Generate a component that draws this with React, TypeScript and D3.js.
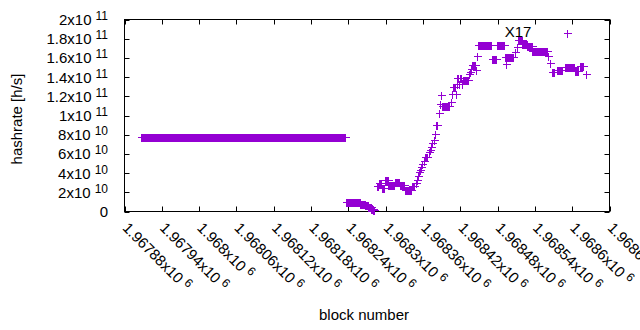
import * as d3 from "d3";

// runs of consecutive blocks sharing one hashrate value (GH/s)
const runStart = [
  1967907,
  1968236, 1968251, 1968259, 1968267, 1968272, 1968277, 1968280,
  1968286, 1968289, 1968294, 1968296, 1968299, 1968304, 1968315, 1968323, 1968331, 1968342,
  1968348, 1968350, 1968352, 1968353, 1968355, 1968357, 1968358, 1968361, 1968363, 1968369,
  1968371, 1968373, 1968374, 1968378, 1968379, 1968381, 1968386, 1968387, 1968389, 1968390,
  1968405, 1968406, 1968408, 1968413, 1968414, 1968415, 1968418, 1968419, 1968422, 1968425,
  1968434, 1968435, 1968437, 1968439, 1968445, 1968447, 1968449, 1968471, 1968479, 1968492,
  1968493, 1968494, 1968508, 1968512, 1968513, 1968520, 1968528, 1968536, 1968561, 1968564,
  1968567, 1968575, 1968588, 1968591, 1968592, 1968605, 1968612, 1968623,
];
const runCount = [
  328,
  15, 8, 8, 5, 5, 3, 3,
  3, 5, 2, 3, 5, 11, 8, 8, 11, 5,
  1, 1, 1, 1, 1, 1, 1, 1, 5, 1,
  1, 1, 1, 1, 1, 3, 1, 1, 1, 13,
  1, 1, 5, 1, 1, 3, 1, 3, 1, 8,
  1, 2, 1, 6, 1, 1, 22, 8, 13, 1,
  1, 12, 1, 1, 7, 8, 8, 24, 1, 1,
  4, 10, 3, 1, 12, 6, 7, 1,
];
const runRate = [
  78,
  10.4, 9.5, 8.2, 6.5, 4.5, 2.8, 1.2,
  27, 29.5, 25, 24, 33, 28, 30.5, 28, 22.6, 27,
  30, 33, 37.5, 41, 43, 46, 50, 53, 56.6, 62,
  64, 67, 71, 75, 81, 90, 103, 112, 121.5, 109.5,
  114, 122.6, 129.5, 122.6, 133, 139, 133, 139, 133, 137.5,
  143.4, 145, 148, 153, 147, 162.5, 173, 159, 173, 161,
  154, 161, 166, 171, 179, 174.5, 172, 167, 161.5, 154.5,
  145, 147.6, 150.3, 186, 150.3, 146, 151.5, 143,
];

const xTickValues = [
  1967880, 1967940, 1968000, 1968060, 1968120, 1968180, 1968240,
  1968300, 1968360, 1968420, 1968480, 1968540, 1968600, 1968660,
];
const xTickMantissa = [
  "1.96788", "1.96794", "1.968", "1.96806", "1.96812", "1.96818", "1.96824",
  "1.9683", "1.96836", "1.96842", "1.96848", "1.96854", "1.9686", "1.96866",
];
const xTickExponent = "6";

const yTickValues = [0, 2e10, 4e10, 6e10, 8e10, 1e11, 1.2e11, 1.4e11, 1.6e11, 1.8e11, 2e11];
const yTickMantissa = ["0", "2", "4", "6", "8", "1", "1.2", "1.4", "1.6", "1.8", "2"];
const yTickExponent = ["", "10", "10", "10", "10", "11", "11", "11", "11", "11", "11"];

const font = "'Liberation Sans', Arial, sans-serif";
const color = "#9400d3";

export default function App() {
  const left = 124.5, right = 609.5, top = 19.5, bottom = 211.5;
  const x = d3.scaleLinear().domain([1967880, 1968660]).range([left, right]);
  const y = d3.scaleLinear().domain([0, 2e11]).range([bottom, top]);

  const points: { b: number; v: number }[] = [];
  runStart.forEach((s, i) => {
    for (let k = 0; k < runCount[i]; k++) points.push({ b: s + k, v: runRate[i] * 1e9 });
  });

  // gnuplot "+" marker, drawn pixel-snapped
  const m = 3.5;
  let d = "";
  points.forEach((p) => {
    const px = Math.round(x(p.b)) + 0.5, py = Math.round(y(p.v)) + 0.5;
    d += `M${px - m},${py}H${px + m + 1}M${px},${py - m}V${py + m + 1}`;
  });

  const tick = 5;

  return (
    <div style={{ position: "absolute", left: 0, top: 0 }}>
      <svg width={640} height={330} style={{ display: "block", background: "#fff" }}>
        <g stroke="#000" strokeWidth={1}>
          {yTickValues.map((t, i) => (
            <g key={"yt" + i}>
              <line x1={left} x2={left + tick} y1={Math.round(y(t)) + 0.5} y2={Math.round(y(t)) + 0.5} />
              <line x1={right - tick} x2={right} y1={Math.round(y(t)) + 0.5} y2={Math.round(y(t)) + 0.5} />
            </g>
          ))}
          {xTickValues.map((t, i) => (
            <g key={"xt" + i}>
              <line x1={Math.round(x(t)) + 0.5} x2={Math.round(x(t)) + 0.5} y1={bottom} y2={bottom - tick} />
              <line x1={Math.round(x(t)) + 0.5} x2={Math.round(x(t)) + 0.5} y1={top} y2={top + tick} />
            </g>
          ))}
          <rect x={left} y={top} width={right - left} height={bottom - top} fill="none" />
        </g>

        <path d={d} stroke={color} strokeWidth={1.2} fill="none" shapeRendering="crispEdges" />

        <g fontFamily={font} fontSize={15} fill="#000">
          {yTickValues.map((t, i) => (
            <text key={"yl" + i} x={108} y={y(t)} dy="0.36em" textAnchor="end">
              {yTickMantissa[i]}
              {yTickExponent[i] && (
                <>
                  {"x10"}
                  <tspan fontSize={12} dx={4} dy={-5}>{yTickExponent[i]}</tspan>
                </>
              )}
            </text>
          ))}
          {xTickValues.map((t, i) => (
            <text
              key={"xl" + i}
              transform={`translate(${x(t) + 1},${225}) rotate(45)`}
              dy="0.36em"
            >
              {xTickMantissa[i]}x10
              <tspan fontSize={12} dx={4} dy={-5}>{xTickExponent}</tspan>
            </text>
          ))}
          <text transform="translate(22,119) rotate(-90)" textAnchor="middle">hashrate [h/s]</text>
          <text x={364} y={320} textAnchor="middle">block number</text>
          <text x={518} y={37} textAnchor="middle">X17</text>
        </g>
      </svg>
    </div>
  );
}
